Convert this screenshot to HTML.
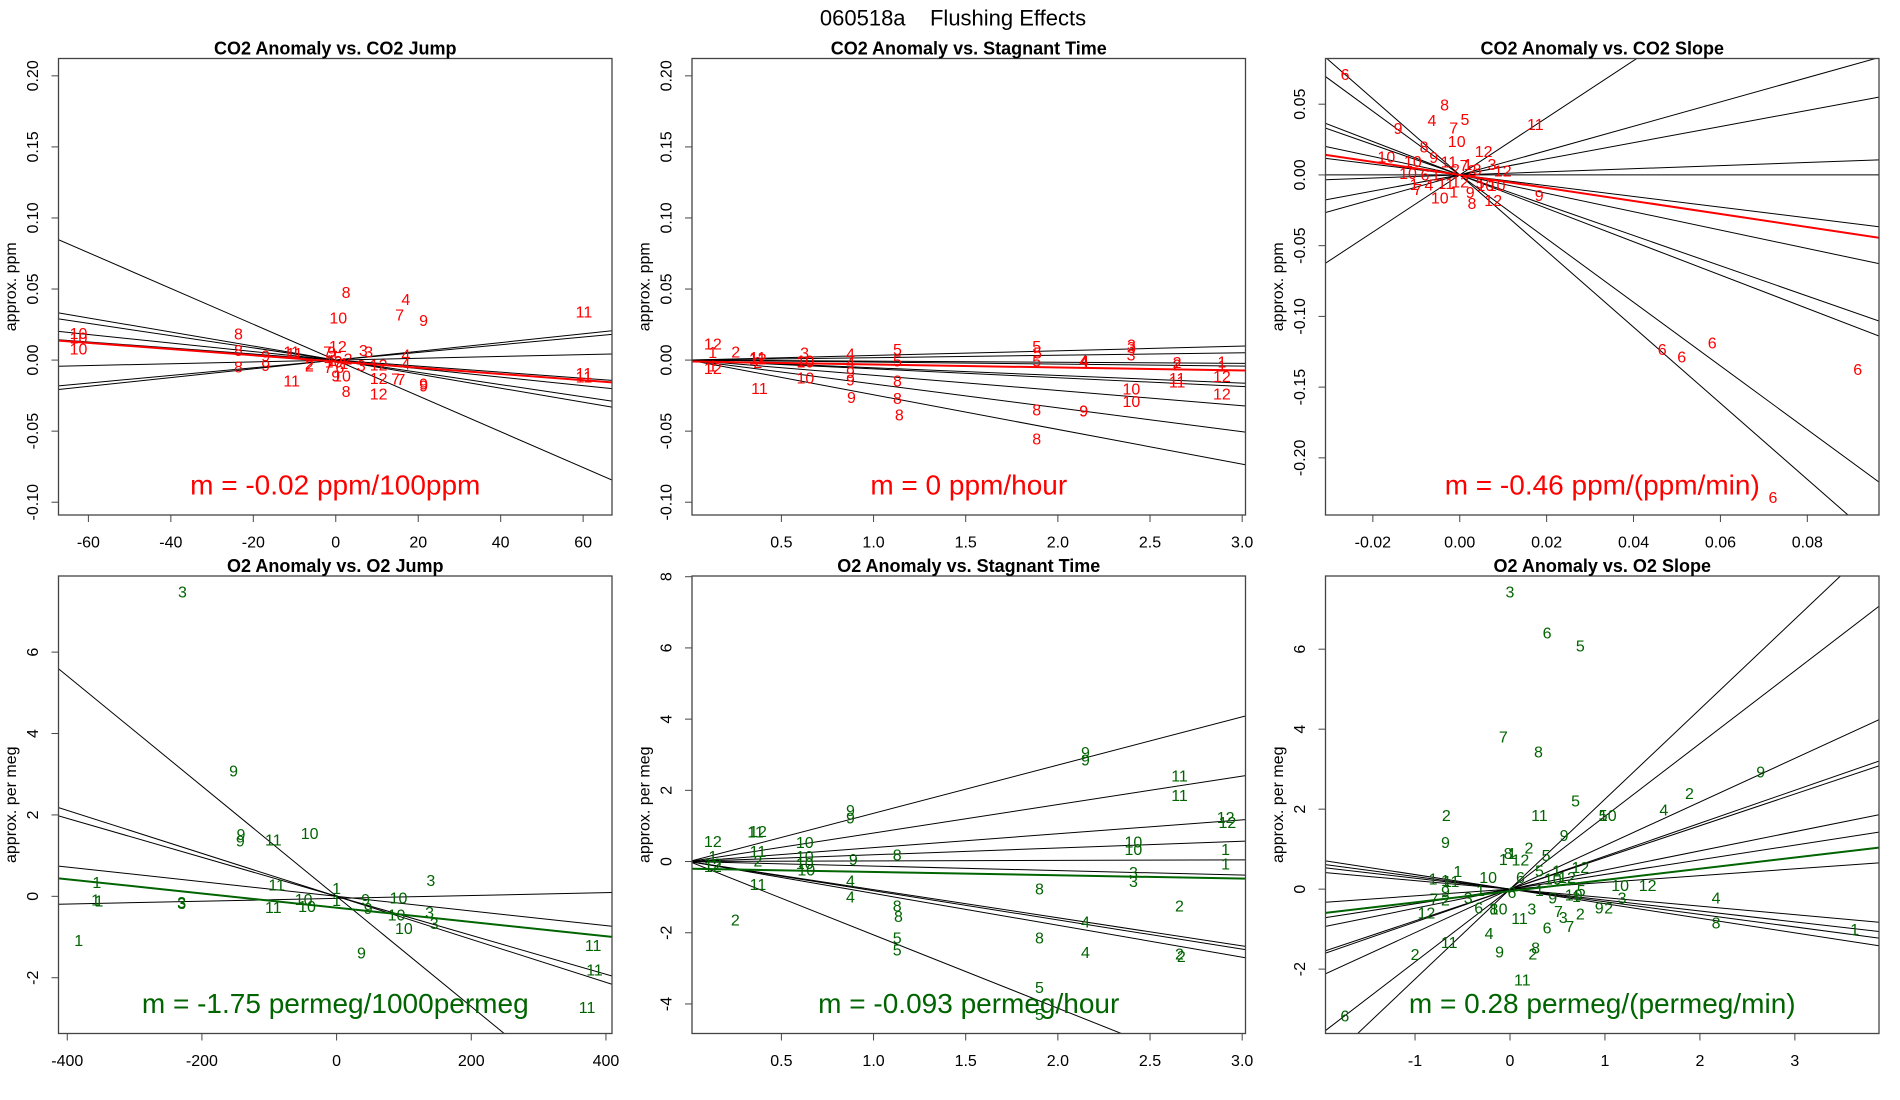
<!DOCTYPE html>
<html><head><meta charset="utf-8"><title>060518a Flushing Effects</title>
<style>
html,body{margin:0;padding:0;background:#fff;}
svg{display:block;font-family:"Liberation Sans",Arial,sans-serif;}
</style></head>
<body>
<svg id="chart" width="1900" height="1100" viewBox="0 0 1900 1100" xmlns="http://www.w3.org/2000/svg">
<rect x="0" y="0" width="1900" height="1100" fill="#fff"/>
<text x="953" y="18" font-size="22" text-anchor="middle" dominant-baseline="central" xml:space="preserve">060518a    Flushing Effects</text>
</svg>
<script>
// ---------- Panel 1: CO2 Anomaly vs CO2 Jump ----------
const p1Labels = ["8","4","7","9","10","11","8","10","10","10","8","9","11","11","7","9","12","3","3","4","4","12","8","9","2","2","7","9","10","1","6","3","12","7","7","9","9","11","8","12","11","11","1","5","10","2"];
const p1X = [2.5,17,15.5,21.3,0.6,60.2,-23.6,-62.4,-62.4,-62.4,-23.6,-17,-10.7,-10,-2,-1,0.5,6.7,8,17,17,10.4,-23.6,-17,-6.4,-6.4,-1.8,0,1.5,2,1,6.2,10.4,14.5,15.8,21.3,21.3,-10.7,2.5,10.4,60.2,60.2,-1,0.5,-0.5,3];
const p1Y = [0.047,0.042,0.031,0.027,0.029,0.033,0.0175,0.018,0.015,0.007,0.006,0.002,0.005,0.004,0.005,0.005,0.009,0.006,0.005,0.003,-0.0035,-0.004,-0.0055,-0.0045,-0.0035,-0.005,-0.006,-0.012,-0.012,-0.003,-0.006,-0.0045,-0.0136,-0.014,-0.0145,-0.0175,-0.019,-0.0155,-0.0227,-0.0245,-0.010,-0.0125,-0.001,0.001,-0.002,0.0];
const p1Slopes = [-0.00126,-0.000494,-0.000431,-0.0003,-0.000213,0.000064,0.00027,0.000308];
const p1Intercepts = [0,0,0,0,0,0,0,0];
const p1Fit = [-0.001,-0.000219];
const p1XTicks = [-60,-40,-20,0,20,40,60];
const p1YTicks = [-0.10,-0.05,0.00,0.05,0.10,0.15,0.20];

// ---------- Panel 2: CO2 Anomaly vs Stagnant Time ----------
const p2Labels = ["12","1","12","1","2","11","12","2","11","3","10","10","10","4","4","9","9","9","5","5","8","8","8","5","5","5","8","8","4","4","9","9","3","3","3","10","10","2","2","11","11","1","1","12","12"];
const p2X = [0.128,0.127,0.128,0.127,0.252,0.372,0.372,0.372,0.381,0.626,0.63,0.63,0.63,0.875,0.875,0.875,0.875,0.88,1.13,1.13,1.13,1.13,1.14,1.885,1.89,1.885,1.885,1.885,2.14,2.145,2.14,2.14,2.399,2.399,2.397,2.399,2.399,2.647,2.647,2.647,2.647,2.89,2.89,2.89,2.89];
const p2Y = [0.0106,0.0047,-0.0066,-0.0047,0.0051,0.0012,0,-0.0023,-0.0206,0.0042,-0.0012,-0.0019,-0.0134,0.0035,-0.0023,-0.0094,-0.0148,-0.027,0.0066,-0.0012,-0.0155,-0.0277,-0.0392,0.0089,0.0042,-0.0012,-0.0359,-0.0563,-0.0014,-0.0016,-0.0364,-0.0366,0.0099,0.0082,0.0028,-0.0211,-0.030,-0.0023,-0.0042,-0.0136,-0.016,-0.0019,-0.0047,-0.0122,-0.0246];
const p2Slopes = [0.00327,0.0017,-0.00077,-0.0014,-0.0054,-0.0062,-0.0107,-0.0168,-0.0244];
const p2Intercepts = [0,0,0,0,0,0,0,0,0];
const p2Fit = [-0.001,-0.0021];
const p2XTicks = [0.5,1.0,1.5,2.0,2.5,3.0];
const p2YTicks = [-0.10,-0.05,0.00,0.05,0.10,0.15,0.20];

// ---------- Panel 3: CO2 Anomaly vs CO2 Slope ----------
const p3Labels = ["6","8","4","5","7","9","10","11","8","12","10","10","9","11","1","7","3","12","10","6","1","1","7","4","11","10","1","12","9","8","12","9","10","10","5","2","3","2","6","6","6","6","6"];
const p3X = [-0.0264,-0.0035,-0.0064,0.0012,-0.0014,-0.0142,-0.0007,0.0174,-0.0082,0.0055,-0.0169,-0.0108,-0.006,-0.0025,0.0019,0.0010,0.0074,0.0099,-0.0119,-0.008,-0.0055,-0.0105,-0.0097,-0.0071,-0.0032,-0.0046,-0.0014,0.0001,0.0024,0.0028,0.0077,0.0183,0.0085,0.0059,0.0047,0.0028,0.0040,-0.0010,0.0466,0.0511,0.0581,0.0916,0.0721];
const p3Y = [0.0703,0.0486,0.0377,0.0384,0.0325,0.032,0.023,0.0349,0.0191,0.016,0.012,0.0089,0.0115,0.0086,0.0066,0.0060,0.0066,0.0019,0.0003,-0.0009,-0.0009,-0.0075,-0.0109,-0.0078,-0.0068,-0.017,-0.0127,-0.0057,-0.013,-0.021,-0.0187,-0.0151,-0.0082,-0.0082,-0.0065,0.0025,0.0030,0.0030,-0.1241,-0.1295,-0.1194,-0.1383,-0.2286];
const p3Slopes = [2.02,0.86,0.57,0.11,0,-0.38,-0.65,-1.07,-1.18,-2.25,-2.69];
const p3Intercepts = [0,0,0,0,0,0,0,0,0,0,0];
const p3Fit = [0,-0.46];
const p3XTicks = [-0.02,0.00,0.02,0.04,0.06,0.08];
const p3YTicks = [-0.20,-0.15,-0.10,-0.05,0.00,0.05];

// ---------- Panel 4: O2 Anomaly vs O2 Jump ----------
const p4Labels = ["3","9","9","9","11","10","1","1","1","1","3","3","11","11","10","10","1","1","9","9","9","10","10","10","3","3","3","11","11","11"];
const p4X = [-229,-153,-142,-143,-94,-40,-356,-358,-353,-383,-230,-230,-89,-94,-49,-44,0,0,43,47,37,92,89,100,140,138,145,381,383,372];
const p4Y = [7.45,3.06,1.5,1.33,1.36,1.52,0.31,-0.12,-0.14,-1.11,-0.2,-0.18,0.25,-0.3,-0.1,-0.27,0.17,-0.13,-0.1,-0.32,-1.42,-0.06,-0.48,-0.81,0.36,-0.42,-0.69,-1.23,-1.83,-2.75];
const p4Slopes = [-0.01354,-0.00528,-0.00479,-0.0018,0.00035];
const p4Intercepts = [0,0,0,0,-0.05];
const p4Fit = [-0.28,-0.00175];
const p4XTicks = [-400,-200,0,200,400];
const p4YTicks = [-2,0,2,4,6];

// ---------- Panel 5: O2 Anomaly vs Stagnant Time ----------
const p5Labels = ["12","1","12","12","12","11","11","2","11","2","10","10","10","10","9","9","9","4","4","8","8","8","5","5","8","8","5","5","9","9","4","4","11","11","10","10","3","3","2","2","2","12","12","1","1"];
const p5X = [0.128,0.128,0.128,0.128,0.373,0.36,0.373,0.373,0.373,0.25,0.627,0.627,0.627,0.635,0.875,0.875,0.89,0.875,0.875,1.128,1.128,1.135,1.128,1.128,1.9,1.9,1.9,1.9,2.15,2.15,2.15,2.15,2.66,2.66,2.41,2.41,2.41,2.41,2.66,2.66,2.67,2.91,2.92,2.91,2.91];
const p5Y = [0.53,0.11,-0.1,-0.17,0.82,0.8,0.26,-0.02,-0.67,-1.67,0.51,0.11,-0.09,-0.26,1.40,1.19,0.03,-0.57,-1.03,0.16,-1.27,-1.57,-2.18,-2.51,-0.8,-2.18,-3.57,-4.33,3.03,2.83,-1.72,-2.59,2.38,1.83,0.52,0.31,-0.34,-0.59,-1.28,-2.62,-2.69,1.21,1.07,0.31,-0.1];
const p5Slopes = [1.355,0.80,0.39,0.19,0.016,-0.127,-0.79,-0.82,-0.895,-2.06];
const p5Intercepts = [0,0,0,0,0,0,0,0,0,0];
const p5Fit = [-0.2,-0.093];
const p5XTicks = [0.5,1.0,1.5,2.0,2.5,3.0];
const p5YTicks = [-4,-2,0,2,4,6,8];

// ---------- Panel 6: O2 Anomaly vs O2 Slope ----------
const p6Labels = ["3","6","5","7","8","9","2","4","2","11","5","5","10","9","9","8","1","1","2","12","5","5","12","1","10","1","1","11","6","1","10","12","10","12","7","9","2","3","1","6","1","9","10","1","5","3","4","8","1","12","6","8","10","3","11","9","2","7","3","2","7","6","4","11","2","9","8","2","11","6"];
const p6X = [0,0.39,0.74,-0.07,0.3,2.64,1.89,1.62,-0.67,0.31,0.69,0.98,1.03,-0.68,0.57,-0.02,0.02,-0.07,0.2,0.11,0.38,0.31,0.74,-0.55,-0.23,-0.81,-0.68,-0.62,0.11,0.49,0.45,0.6,1.16,1.45,-0.8,-0.68,-0.68,-0.44,-0.31,0.02,0.31,0.45,0.67,0.7,0.75,1.18,2.17,2.17,3.63,-0.88,-0.33,-0.17,-0.12,0.23,0.1,0.94,1.04,0.51,0.56,0.74,0.63,0.39,-0.22,-0.64,-1.0,-0.11,0.27,0.24,0.13,-1.74];
const p6Y = [7.4,6.38,6.05,3.78,3.41,2.9,2.37,1.95,1.82,1.82,2.18,1.82,1.82,1.14,1.32,0.87,0.87,0.72,1.0,0.7,0.82,0.43,0.52,0.41,0.26,0.23,0.19,0.17,0.27,0.43,0.23,0.26,0.06,0.06,-0.27,-0.08,-0.3,-0.25,-0.06,-0.11,-0.06,-0.25,-0.17,-0.21,-0.06,-0.25,-0.25,-0.87,-1.03,-0.62,-0.5,-0.52,-0.52,-0.52,-0.76,-0.5,-0.5,-0.58,-0.73,-0.65,-0.96,-1.0,-1.13,-1.36,-1.66,-1.6,-1.5,-1.65,-2.3,-3.2];
const p6Slopes = [2.25,1.82,1.09,0.824,0.793,0.479,0.367,0.169,-0.213,-0.273,-0.315,-0.364];
const p6Intercepts = [0,0,0,0,0,0,0,0,0,0,0,0];
const p6Fit = [-0.05,0.28];
const p6XTicks = [-1,0,1,2,3];
const p6YTicks = [-2,0,2,4,6];

const NS = "http://www.w3.org/2000/svg";
const svg = document.getElementById('chart');
const RED = "#ff0000", GREEN = "#006400";

const panels = [
 {key:'co2-jump', box:[58.5,58.5,612,515], xd:[-67.25,67.0], yd:[-0.109,0.2122], xt:p1XTicks, yt:p1YTicks, xf:v=>String(v), yf:v=>v.toFixed(2), color:RED, title:"CO2 Anomaly vs. CO2 Jump", ylab:"approx. ppm", mtext:"m = -0.02 ppm/100ppm", lab:p1Labels, px:p1X, py:p1Y, sl:p1Slopes, ic:p1Intercepts, fit:p1Fit},
 {key:'co2-stagnant', box:[692,58.5,1245.5,515], xd:[0.015,3.018], yd:[-0.109,0.2122], xt:p2XTicks, yt:p2YTicks, xf:v=>v.toFixed(1), yf:v=>v.toFixed(2), color:RED, title:"CO2 Anomaly vs. Stagnant Time", ylab:"approx. ppm", mtext:"m = 0 ppm/hour", lab:p2Labels, px:p2X, py:p2Y, sl:p2Slopes, ic:p2Intercepts, fit:p2Fit},
 {key:'co2-slope', box:[1325.5,58.5,1879,515], xd:[-0.0309,0.0965], yd:[-0.2404,0.0823], xt:p3XTicks, yt:p3YTicks, xf:v=>v.toFixed(2), yf:v=>v.toFixed(2), color:RED, title:"CO2 Anomaly vs. CO2 Slope", ylab:"approx. ppm", mtext:"m = -0.46 ppm/(ppm/min)", lab:p3Labels, px:p3X, py:p3Y, sl:p3Slopes, ic:p3Intercepts, fit:p3Fit},
 {key:'o2-jump', box:[58.5,576,612,1033.5], xd:[-413,409], yd:[-3.37,7.87], xt:p4XTicks, yt:p4YTicks, xf:v=>String(v), yf:v=>String(v), color:GREEN, title:"O2 Anomaly vs. O2 Jump", ylab:"approx. per meg", mtext:"m = -1.75 permeg/1000permeg", lab:p4Labels, px:p4X, py:p4Y, sl:p4Slopes, ic:p4Intercepts, fit:p4Fit},
 {key:'o2-stagnant', box:[692,576,1245.5,1033.5], xd:[0.015,3.018], yd:[-4.83,8.02], xt:p5XTicks, yt:p5YTicks, xf:v=>v.toFixed(1), yf:v=>String(v), color:GREEN, title:"O2 Anomaly vs. Stagnant Time", ylab:"approx. per meg", mtext:"m = -0.093 permeg/hour", lab:p5Labels, px:p5X, py:p5Y, sl:p5Slopes, ic:p5Intercepts, fit:p5Fit},
 {key:'o2-slope', box:[1325.5,576,1879,1033.5], xd:[-1.943,3.886], yd:[-3.61,7.83], xt:p6XTicks, yt:p6YTicks, xf:v=>String(v), yf:v=>String(v), color:GREEN, title:"O2 Anomaly vs. O2 Slope", ylab:"approx. per meg", mtext:"m = 0.28 permeg/(permeg/min)", lab:p6Labels, px:p6X, py:p6Y, sl:p6Slopes, ic:p6Intercepts, fit:p6Fit}
];

function mk(tag, attrs, parent){
  const e = document.createElementNS(NS, tag);
  for (const k in attrs) e.setAttribute(k, attrs[k]);
  parent.appendChild(e);
  return e;
}

panels.forEach((p, pi) => {
  const [L,T,R,B] = p.box;
  const sx = v => L + (v - p.xd[0]) / (p.xd[1] - p.xd[0]) * (R - L);
  const sy = v => B - (v - p.yd[0]) / (p.yd[1] - p.yd[0]) * (B - T);
  const g = mk('g', {}, svg);
  
  

  const defs = mk('defs', {}, g);
  const cp = mk('clipPath', {id:'clip'+pi}, defs);
  mk('rect', {x:L, y:T, width:R-L, height:B-T}, cp);

  const lg = mk('g', {'clip-path':'url(#clip'+pi+')'}, g);
  
  
  p.sl.forEach((s, i) => {
    const b = p.ic[i];
    const ln = mk('line', {x1:sx(p.xd[0]), y1:sy(b + s*p.xd[0]), x2:sx(p.xd[1]), y2:sy(b + s*p.xd[1]), stroke:'#000', 'stroke-width':1}, lg);
    
    
  });
  const ptg = mk('g', {'clip-path':'url(#clip'+pi+')'}, g);
  p.lab.forEach((t, i) => {
    const tx = mk('text', {x:sx(p.px[i]), y:sy(p.py[i]), 'font-size':16, fill:p.color, 'text-anchor':'middle', 'dominant-baseline':'central'}, ptg);
    tx.textContent = t;
    
    
  });
  const fl = mk('line', {x1:sx(p.xd[0]), y1:sy(p.fit[0] + p.fit[1]*p.xd[0]), x2:sx(p.xd[1]), y2:sy(p.fit[0] + p.fit[1]*p.xd[1]), stroke:p.color, 'stroke-width':2, 'clip-path':'url(#clip'+pi+')'}, g);
  
  

  const bx = mk('rect', {x:L, y:T, width:R-L, height:B-T, fill:'none', stroke:'#444', 'stroke-width':1.3}, g);
  
  

  const xa = mk('g', {}, g);
  
  
  p.xt.forEach(v => {
    const x = sx(v);
    mk('line', {x1:x, y1:B, x2:x, y2:B+7, stroke:'#444', 'stroke-width':1}, xa);
    const t = mk('text', {x:x, y:B+28, 'font-size':16, 'text-anchor':'middle', 'dominant-baseline':'central', fill:'#000'}, xa);
    t.textContent = p.xf(v);
    
    
  });
  const ya = mk('g', {}, g);
  
  
  p.yt.forEach(v => {
    const y = sy(v);
    mk('line', {x1:L-7, y1:y, x2:L, y2:y, stroke:'#444', 'stroke-width':1}, ya);
    const t = mk('text', {x:L-25, y:y, 'font-size':16, 'text-anchor':'middle', 'dominant-baseline':'central', fill:'#000', transform:'rotate(-90 '+(L-25)+' '+y+')'}, ya);
    t.textContent = p.yf(v);
    
    
  });
  const cy = (T + B) / 2;
  const yl = mk('text', {x:L-47, y:cy, 'font-size':16, 'text-anchor':'middle', 'dominant-baseline':'central', fill:'#000', transform:'rotate(-90 '+(L-47)+' '+cy+')'}, g);
  yl.textContent = p.ylab;
  
  
  const tt = mk('text', {x:(L+R)/2, y:T-10, 'font-size':18, 'font-weight':'bold', 'text-anchor':'middle', 'dominant-baseline':'central', fill:'#000'}, g);
  tt.textContent = p.title;
  
  
  const mt = mk('text', {x:(L+R)/2, y:B-30, 'font-size':28, 'text-anchor':'middle', 'dominant-baseline':'central', fill:p.color}, g);
  mt.textContent = p.mtext;
  
  
});
</script>
</body></html>
